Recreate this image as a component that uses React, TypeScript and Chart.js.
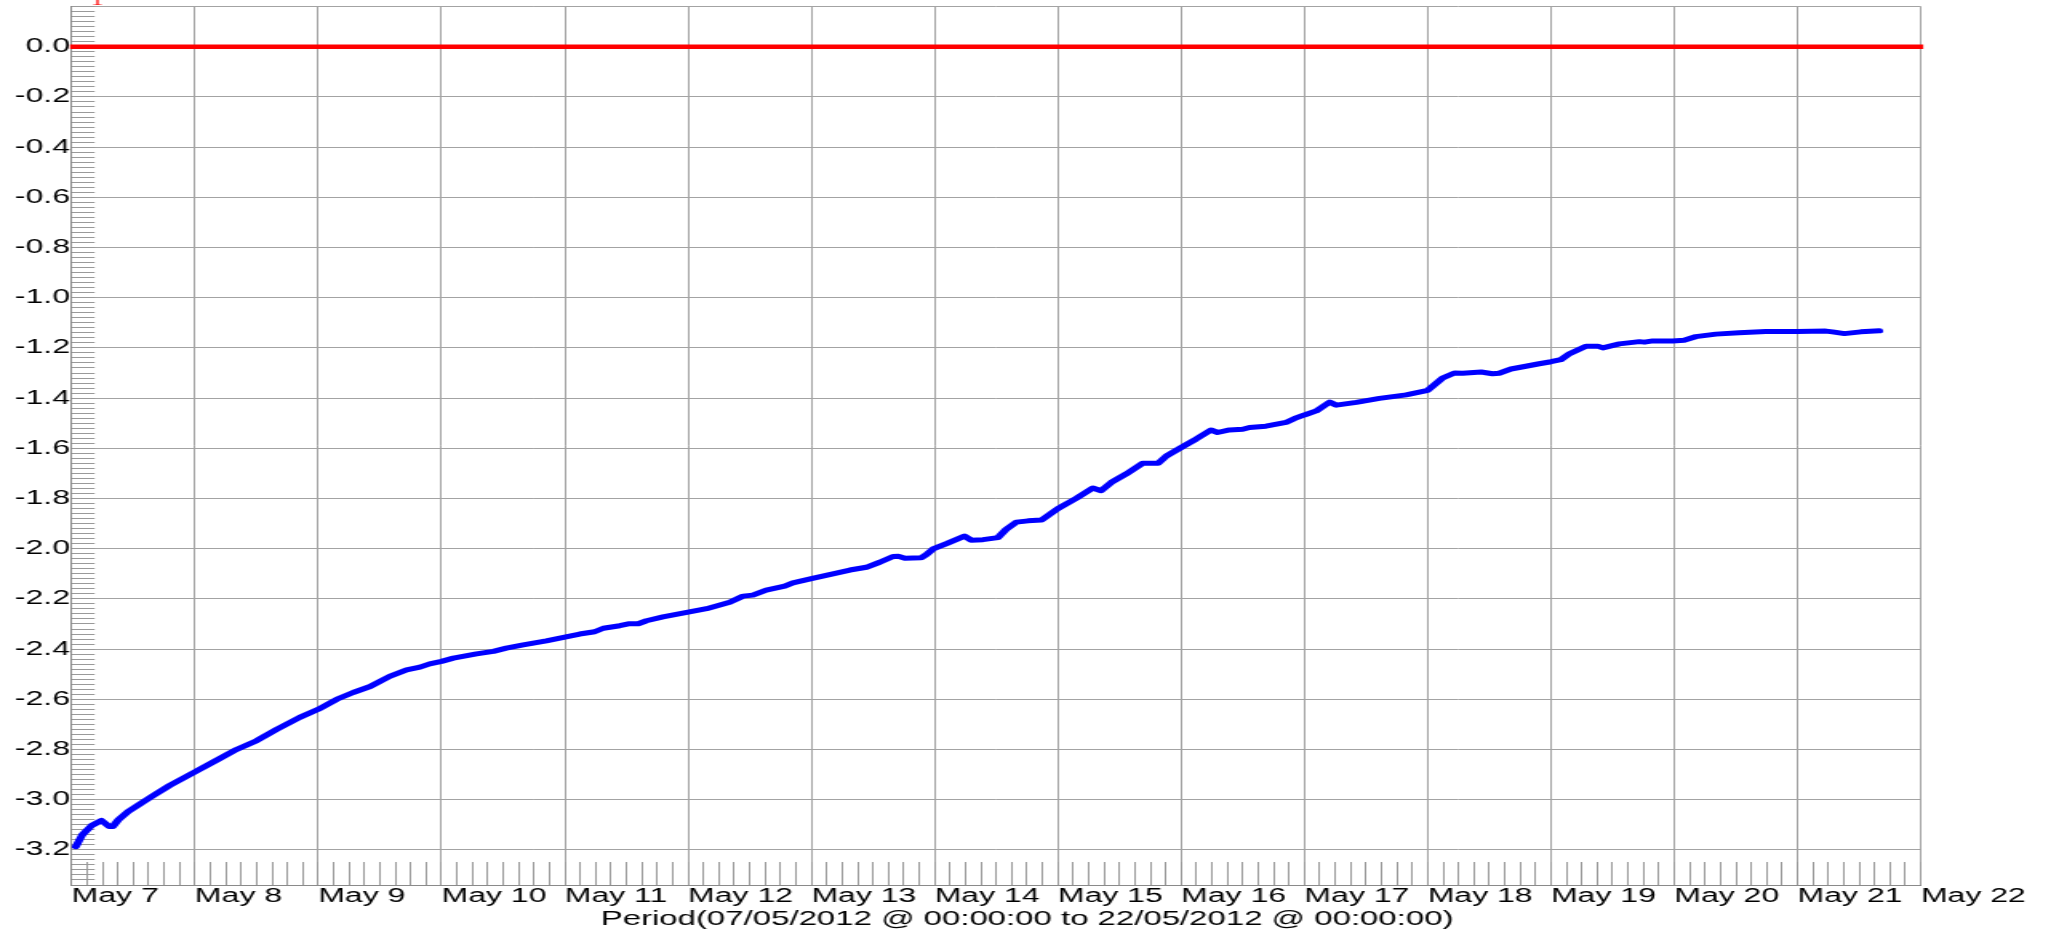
import React, { useEffect, useRef } from 'react';
import { Chart, registerables } from 'chart.js';

Chart.register(...registerables);

// Hours since 07/05/2012 00:00
const HOURS = [
  0.8, 2.1, 3.9, 5.8, 7.3, 8.0, 9.1, 11.0, 13.6, 15.9, 19.1, 24.0, 28.2, 32.1, 36.0, 39.9, 44.4, 48.0,
  51.6, 54.8, 58.1, 61.9, 65.2, 67.8, 69.7, 72.0, 74.3, 78.8, 82.1, 84.6, 87.9, 92.4, 96.0, 98.9,
  101.8, 103.5, 106.7, 108.6, 110.3, 111.9, 115.1, 120.0, 123.6, 128.1, 130.7, 132.6, 135.2, 138.8,
  140.4, 144.0, 151.5, 154.7, 157.3, 159.9, 160.9, 162.2, 165.4, 166.4, 167.7, 170.3, 173.8, 175.1,
  177.4, 180.3, 181.9, 183.9, 186.2, 188.8, 192.0, 195.6, 198.8, 200.4, 202.4, 205.3, 208.5, 211.5,
  213.1, 215.7, 218.9, 221.8, 223.1, 225.4, 228.0, 229.3, 232.5, 236.4, 238.1, 240.0, 242.3, 244.9,
  246.2, 250.1, 254.6, 259.8, 264.0, 266.9, 269.2, 270.8, 274.4, 276.6, 277.9, 280.2, 283.1, 285.7,
  288.0, 289.9, 291.6, 294.8, 297.1, 298.1, 301.3, 305.2, 306.2, 307.8, 311.7, 313.9, 316.2, 320.1,
  324.6, 329.8, 336.0, 341.5, 342.8, 345.1, 348.3, 351.9,
];
const VALUES = [
  -3.187, -3.139, -3.103, -3.083, -3.107, -3.107, -3.08, -3.047, -3.013, -2.983, -2.943, -2.889, -2.843, -2.8, -2.765, -2.72, -2.672, -2.64,
  -2.6, -2.573, -2.549, -2.509, -2.483, -2.472, -2.459, -2.449, -2.436, -2.419, -2.409, -2.396, -2.383, -2.367, -2.352, -2.34,
  -2.331, -2.317, -2.307, -2.299, -2.299, -2.287, -2.272, -2.253, -2.239, -2.213, -2.189, -2.185, -2.165, -2.149,
  -2.136, -2.119, -2.085, -2.074, -2.054, -2.031, -2.03, -2.038, -2.036, -2.023, -2.001, -1.98, -1.95, -1.966,
  -1.964, -1.956, -1.923, -1.894, -1.889, -1.886, -1.84, -1.799, -1.758, -1.769, -1.736, -1.702, -1.66, -1.66,
  -1.631, -1.6, -1.563, -1.527, -1.537, -1.527, -1.524, -1.517, -1.512, -1.497, -1.481, -1.467, -1.451, -1.416,
  -1.428, -1.417, -1.401, -1.387, -1.369, -1.32, -1.3, -1.301, -1.296, -1.303, -1.301, -1.284, -1.273, -1.263,
  -1.255, -1.247, -1.223, -1.193, -1.193, -1.2, -1.184, -1.175, -1.177, -1.172, -1.172, -1.169, -1.155, -1.145,
  -1.14, -1.135, -1.135, -1.133, -1.136, -1.143, -1.136, -1.132,
];

const ZERO_HOURS = [0, 360];
const ZERO_VALUES = [0, 0];

const X_TICK_LABELS = [
  'May 7', 'May 8', 'May 9', 'May 10', 'May 11', 'May 12', 'May 13', 'May 14',
  'May 15', 'May 16', 'May 17', 'May 18', 'May 19', 'May 20', 'May 21', 'May 22',
];
const X_MIN = 0;
const X_MAX = 360;
const X_STEP = 3;
const Y_MIN = -3.34;
const Y_MAX = 0.16;
const Y_STEP = 0.02;
const TITLE = 'Period(07/05/2012 @ 00:00:00 to 22/05/2012 @ 00:00:00)';
const SERIES_MARK = '1';

const CSS_W = 2051;
const CSS_H = 929;
const STRETCH = 1.6;
const W = Math.round(CSS_W / STRETCH);
const H = CSS_H;

const FONT = '"Liberation Sans", Arial, Helvetica, sans-serif';
const GRID = '#a3a3a3';
const TICKC = '#9a9a9a';
const BORDER = '#8a8a8a';
const CLEAR = 'rgba(0,0,0,0)';

const isMajorY = (v: number) => Math.round(v * 100) % 20 === 0;
const isMajorX = (v: number) => Math.round(v) % 24 === 0;

const textPlugin = {
  id: 'extraTexts',
  afterDraw(chart: any) {
    const { ctx, chartArea } = chart;
    ctx.save();
    ctx.fillStyle = '#000';
    ctx.font = `20.6px ${FONT}`;
    ctx.textAlign = 'center';
    ctx.textBaseline = 'alphabetic';
    ctx.fillText(TITLE, chart.width / 2 + 1, chartArea.bottom + 40);
    ctx.fillStyle = '#ff0000';
    ctx.font = '15px "Liberation Serif", "Times New Roman", serif';
    ctx.fillText(SERIES_MARK, chartArea.left + 16, 4.5);
    ctx.restore();
  },
};

export default function App() {
  const ref = useRef<HTMLCanvasElement | null>(null);

  useEffect(() => {
    if (!ref.current) return;
    const chart = new Chart(ref.current, {
      type: 'line',
      data: {
        datasets: [
          {
            label: 'zero',
            data: ZERO_HOURS.map((h, i) => ({ x: h, y: ZERO_VALUES[i] })),
            borderColor: '#ff0000',
            borderWidth: 4.6,
            borderCapStyle: 'square',
            pointRadius: 0,
            tension: 0,
            fill: false,
            clip: { left: 1, right: 1.5, top: 5, bottom: 5 },
          } as any,
          {
            label: 'series',
            data: HOURS.map((h, i) => ({ x: h, y: VALUES[i] })),
            borderColor: '#0000ff',
            borderWidth: 5,
            borderJoinStyle: 'round',
            borderCapStyle: 'round',
            pointRadius: 0,
            tension: 0,
            fill: false,
          } as any,
        ],
      },
      options: {
        animation: false,
        responsive: false,
        maintainAspectRatio: false,
        devicePixelRatio: 1,
        events: [],
        layout: { padding: { left: 0, top: 6.6, right: W - 1921 / STRETCH, bottom: 0 } },
        plugins: {
          legend: { display: false },
          tooltip: { enabled: false },
          title: { display: false },
        },
        scales: {
          x: {
            type: 'linear',
            min: X_MIN,
            max: X_MAX,
            ticks: {
              stepSize: X_STEP,
              autoSkip: false,
              maxRotation: 0,
              minRotation: 0,
              align: 'start',
              padding: 22,
              color: '#000',
              font: { family: FONT, size: 20 },
              callback: (v: any) => {
                const n = Number(v);
                return isMajorX(n) ? X_TICK_LABELS[Math.round(n / 24)] : '';
              },
            },
            grid: {
              color: (c: any) => (isMajorX(c.tick.value) ? GRID : CLEAR),
              lineWidth: 1,
              drawTicks: true,
              tickLength: -23,
              tickColor: TICKC,
              tickWidth: 1,
            },
            border: { display: true, color: BORDER, width: 1 },
            afterFit: (s: any) => {
              s.height = 44;
              s.paddingLeft = 0;
              s.paddingRight = 0;
              s.paddingTop = 0;
              s.paddingBottom = 0;
            },
          } as any,
          y: {
            type: 'linear',
            min: Y_MIN,
            max: Y_MAX,
            ticks: {
              stepSize: Y_STEP,
              autoSkip: false,
              includeBounds: false,
              padding: 15.4,
              color: '#000',
              font: { family: FONT, size: 20 },
              callback: (v: any) => {
                const n = Number(v);
                if (!isMajorY(n)) return '';
                const r = Math.round(n * 10) / 10;
                return r === 0 ? '0.0' : r.toFixed(1);
              },
            },
            grid: {
              color: (c: any) =>
                isMajorY(c.tick.value) || Math.abs(c.tick.value - Y_MAX) < 1e-6 ? GRID : CLEAR,
              lineWidth: 1,
              drawTicks: true,
              tickLength: -23 / STRETCH,
              tickColor: TICKC,
              tickWidth: 1,
            },
            border: { display: true, color: BORDER, width: 1 },
            afterFit: (s: any) => {
              s.width = 71.7 / STRETCH;
              s.paddingLeft = 0;
              s.paddingRight = 0;
              s.paddingTop = 0;
              s.paddingBottom = 0;
            },
          } as any,
        },
      },
      plugins: [textPlugin],
    } as any);
    return () => chart.destroy();
  }, []);

  return (
    <canvas
      ref={ref}
      width={W}
      height={H}
      style={{ position: 'fixed', left: 0, top: 0, width: CSS_W + 'px', height: CSS_H + 'px' }}
    />
  );
}
